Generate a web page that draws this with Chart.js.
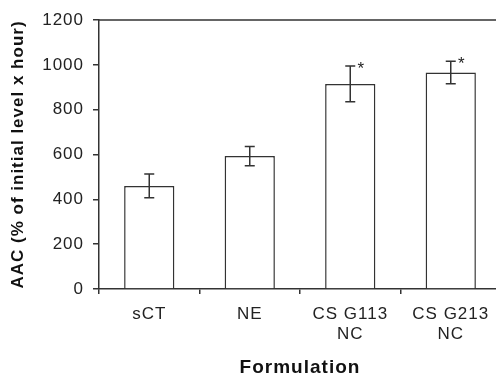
<!DOCTYPE html>
<html>
<head>
<meta charset="utf-8">
<script src="https://cdn.jsdelivr.net/npm/chart.js@4.4.0/dist/chart.umd.min.js"></script>
<style>
  html, body { margin: 0; padding: 0; background: #fff; overflow: hidden; }
  #wrap { width: 505px; height: 375px; }
</style>
</head>
<body>
<div id="wrap"><canvas id="aacChart" width="505" height="375"></canvas></div>
<script>
// Dados
const categories = ['sCT', 'NE', ['CS G113', 'NC'], ['CS G213', 'NC']];
const meanValues = [460, 593, 915, 966];
const errorValues = [53, 43, 80, 50];
const marks = ['', '', '*', '*'];
const yTicks = [0, 200, 400, 600, 800, 1000, 1200];

const FONT = "'Liberation Sans', Arial, sans-serif";
const INK = '#333';

// Espaçamento entre letras, para parecer com o texto do original
const spacingPlugin = {
    id: 'spacing',
    beforeDraw(chart) { chart.ctx.letterSpacing = '1px'; }
};

// Desenha as barras de erro, os asteriscos e a moldura de cima
const errorBarPlugin = {
    id: 'errorBars',
    afterDatasetsDraw(chart) {
        const c = chart.ctx;
        const x = chart.scales.x;
        const y = chart.scales.y;
        c.save();
        c.strokeStyle = INK;
        c.lineWidth = 1.5;
        meanValues.forEach((v, i) => {
            const px = x.getPixelForValue(i);
            const top = y.getPixelForValue(v + errorValues[i]);
            const bot = y.getPixelForValue(v - errorValues[i]);
            c.beginPath();
            c.moveTo(px, top); c.lineTo(px, bot);
            c.moveTo(px - 5, top); c.lineTo(px + 5, top);
            c.moveTo(px - 5, bot); c.lineTo(px + 5, bot);
            c.stroke();
            if (marks[i]) {
                c.fillStyle = '#222';
                c.font = '17px ' + FONT;
                c.textAlign = 'center';
                c.textBaseline = 'middle';
                c.fillText(marks[i], px + 11, top + 3);
            }
        });
        // linha de cima e lado direito
        const a = chart.chartArea;
        c.beginPath();
        c.moveTo(a.left, a.top); c.lineTo(a.right, a.top); c.lineTo(a.right, a.bottom);
        c.stroke();
        c.restore();
    }
};

const ctx = document.getElementById('aacChart').getContext('2d');

const aacChart = new Chart(ctx, {
    type: 'bar',
    data: {
        labels: categories,
        datasets: [{
            data: meanValues,
            backgroundColor: '#fff',
            borderColor: INK,
            borderWidth: 1.5,
            barPercentage: 0.5,
            categoryPercentage: 1.0
        }]
    },
    options: {
        responsive: false,
        animation: false,
        layout: { padding: { top: 20, right: 4, left: 0, bottom: 0 } },
        plugins: { legend: { display: false }, tooltip: { enabled: false } },
        scales: {
            x: {
                grid: { offset: true, drawOnChartArea: false, tickLength: 5, color: INK, lineWidth: 1.5 },
                border: { color: INK, width: 1.5 },
                ticks: { color: '#222', padding: 10, maxRotation: 0, font: { family: FONT, size: 17 } },
                title: {
                    display: true,
                    text: 'Formulation',
                    color: '#111',
                    padding: { top: 0, bottom: 0 },
                    font: { family: FONT, size: 19, weight: 'bold', lineHeight: 0.8 }
                },
                afterFit(scale) { scale.height = 86; }
            },
            y: {
                min: 0,
                max: 1200,
                afterBuildTicks(scale) { scale.ticks = yTicks.map(v => ({ value: v })); },
                grid: { drawOnChartArea: false, tickLength: 6, color: INK, lineWidth: 1.5 },
                border: { color: INK, width: 1.5 },
                ticks: {
                    color: '#222',
                    padding: 9,
                    font: { family: FONT, size: 17 },
                    callback: v => String(v)
                },
                title: {
                    display: true,
                    text: 'AAC (% of initial level x hour)',
                    color: '#111',
                    padding: { top: 8, bottom: 0 },
                    font: { family: FONT, size: 17, weight: 'bold' }
                },
                afterFit(scale) { scale.width = 99; }
            }
        }
    },
    plugins: [spacingPlugin, errorBarPlugin]
});
</script>
</body>
</html>
